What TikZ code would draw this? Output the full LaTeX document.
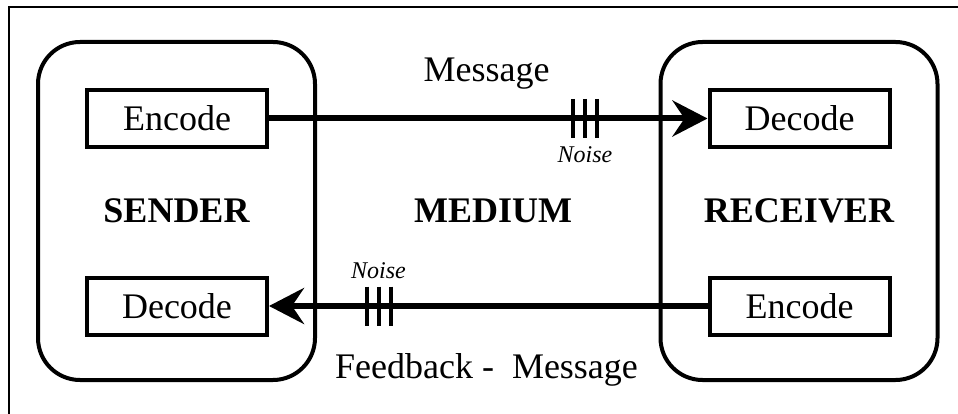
\documentclass[tikz,border=0pt]{standalone}
\usepackage{fontspec}
\setmainfont{Liberation Serif}
\usetikzlibrary{arrows.meta, positioning}
\tikzset{
    party/.style={
        rectangle, draw=black, line width=4pt, rounded corners=42pt,
        minimum width=277pt, minimum height=338pt,
        font=\fontsize{36}{40}\selectfont\bfseries
    },
    codebox/.style={
        rectangle, draw=black, line width=4pt,
        minimum width=180pt, minimum height=57pt,
        font=\fontsize{36}{40}\selectfont
    },
    signal/.style={draw=black, line width=6pt, -{Stealth[length=35pt, width=36pt, inset=12pt]}},
    noisemark/.style={draw=black, line width=4pt},
    msglabel/.style={font=\fontsize{36}{40}\selectfont, anchor=base, inner sep=0pt},
    noiselabel/.style={font=\fontsize{24}{28}\selectfont\itshape, anchor=base, inner sep=0pt}
}
\begin{document}
\begin{tikzpicture}[x=1pt, y=-1pt]
\useasboundingbox (0,0) rectangle (958,414);

% outer frame
\draw[line width=2pt] (9,7) rectangle (962,418);

% sender and receiver
\node[party] (sender) at (176.5,211) {SENDER};
\node[party] (receiver) at (799,211) {RECEIVER};
\node[font=\fontsize{36}{40}\selectfont\bfseries] (medium) at (493,211) {MEDIUM};

% encode / decode boxes
\node[codebox] (enc1) at (177,118.5) {Encode};
\node[codebox] (dec1) at (799.5,118.5) {Decode};
\node[codebox] (dec2) at (177,306) {Decode};
\node[codebox] (enc2) at (799.5,306) {Encode};

\draw[signal] (enc1) -- (dec1);
\draw[signal] (enc2) -- (dec2);

% labels
\node[msglabel] (msg) at (486.5,82) {Message};
\node[msglabel] (feedback) at (486.5,378) {Feedback -\ \ Message};
\node[noiselabel] (noise1) at (585,163) {Noise};
\node[noiselabel] (noise2) at (378.5,278) {Noise};

% noise marks
\coordinate (nz1) at (585,118.5);
\coordinate (nz2) at (378.5,306);
\foreach \dx in {-12,0,12} {
    \draw[noisemark] ([shift={(\dx,-19.5)}]nz1) -- ++(0,39);
    \draw[noisemark] ([shift={(\dx,-19.5)}]nz2) -- ++(0,39);
}

\end{tikzpicture}
\end{document}
